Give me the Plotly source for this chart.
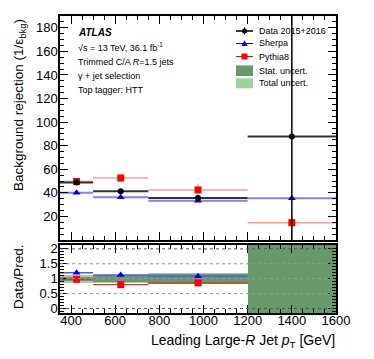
import plotly.graph_objects as go

# ---------------- data ----------------
bin_lo = [350, 500, 750, 1200]
bin_hi = [500, 750, 1200, 1600]
marker_x = [425, 625, 975, 1400]

data_val = [48.8, 41.4, 35.6, 87.7]
data_err_up = [1.5, 1.2, 2.5, 110.0]
data_err_dn = [1.5, 1.2, 2.5, 87.7]

sherpa_val = [40.0, 36.3, 33.2, 35.5]
sherpa_err = [0.8, 0.7, 0.8, 1.0]

pythia_val = [49.6, 52.6, 42.5, 14.7]
pythia_err = [2.5, 3.5, 5.5, 1.5]

ratio_x = [425, 625, 975]
sherpa_ratio = [1.20, 1.12, 1.08]
sherpa_ratio_err = [0.03, 0.03, 0.06]
pythia_ratio = [0.98, 0.80, 0.86]
pythia_ratio_err = [0.05, 0.03, 0.09]

stat_half = [0.07, 0.11, 0.17, 5.0]
total_half = [0.14, 0.13, 0.19, 5.0]

main_ticks = [20, 40, 60, 80, 100, 120, 140, 160, 180]
ratio_ticks = [0, 0.5, 1, 1.5, 2]
ratio_ticktext = ["0", "0.5", "1", "1.5", "2"]
x_ticks = [400, 600, 800, 1000, 1200, 1400, 1600]

legend_labels = ["Data 2015+2016", "Sherpa", "Pythia8", "Stat. uncert.", "Total uncert."]

# ---------------- layout geometry ----------------
# the page body has an 8 px margin, so the figure is drawn 8 px smaller and
# all target positions (page pixels) are shifted by that offset
OFF = 8
W, H = 374 - OFF, 359 - OFF
ML, MR, MT, MB = 60 - OFF, 38, 16 - OFF, 46
PW, PH = W - ML - MR, H - MT - MB


def X(px):
    return (px - OFF - ML) / PW


def Y(py):
    return (H - MB - (py - OFF)) / PH


# ---------------- derived ----------------
centers = [(a + b) / 2 for a, b in zip(bin_lo, bin_hi)]
widths = [b - a for a, b in zip(bin_lo, bin_hi)]
xerr_plus = [h - m for h, m in zip(bin_hi, marker_x)]
xerr_minus = [m - l for l, m in zip(bin_lo, marker_x)]

FONT = "Liberation Sans, Arial, Helvetica, sans-serif"
STAT_COL = "#67996a"
TOTAL_COL = "#9fd09f"
BLUE = "#0000ff"
RED = "#ff0000"

fig = go.Figure()

# ---- ratio bands ----
fig.add_trace(go.Bar(
    x=centers, y=[2 * h for h in total_half], base=[1 - h for h in total_half],
    width=widths, marker=dict(color=TOTAL_COL, line=dict(width=0)),
    xaxis="x2", yaxis="y2", name=legend_labels[4], showlegend=False))
fig.add_trace(go.Bar(
    x=centers, y=[2 * h for h in stat_half], base=[1 - h for h in stat_half],
    width=widths, marker=dict(color=STAT_COL, line=dict(width=0)),
    xaxis="x2", yaxis="y2", name=legend_labels[3], showlegend=False))

# ---- main panel ----
fig.add_trace(go.Scatter(
    x=marker_x, y=sherpa_val, mode="markers", name=legend_labels[1],
    marker=dict(symbol="triangle-up", size=7, color=BLUE),
    error_x=dict(type="data", symmetric=False, array=xerr_plus, arrayminus=xerr_minus,
                 color="#7f7fff", thickness=2, width=0),
    error_y=dict(type="data", array=sherpa_err, color=BLUE, thickness=1, width=0),
    showlegend=False))
fig.add_trace(go.Scatter(
    x=marker_x, y=pythia_val, mode="markers", name=legend_labels[2],
    marker=dict(symbol="square", size=7, color=RED),
    error_x=dict(type="data", symmetric=False, array=xerr_plus, arrayminus=xerr_minus,
                 color="#ff9898", thickness=1.5, width=0),
    error_y=dict(type="data", array=pythia_err, color="#ff8080", thickness=1, width=0),
    showlegend=False))
fig.add_trace(go.Scatter(
    x=marker_x, y=data_val, mode="markers", name=legend_labels[0],
    marker=dict(symbol="circle", size=6, color="black"),
    error_x=dict(type="data", symmetric=False, array=xerr_plus, arrayminus=xerr_minus,
                 color="#333333", thickness=2, width=0),
    error_y=dict(type="data", symmetric=False, array=data_err_up, arrayminus=data_err_dn,
                 color="black", thickness=1.5, width=0),
    showlegend=False))

# ---- ratio panel markers ----
fig.add_trace(go.Scatter(
    x=ratio_x, y=sherpa_ratio, mode="markers", xaxis="x2", yaxis="y2",
    marker=dict(symbol="triangle-up", size=7, color=BLUE),
    error_x=dict(type="data", symmetric=False, array=xerr_plus[:3], arrayminus=xerr_minus[:3],
                 color="#5555ff", thickness=1.5, width=0),
    error_y=dict(type="data", array=sherpa_ratio_err, color="#5555ff", thickness=1, width=0),
    showlegend=False))
fig.add_trace(go.Scatter(
    x=ratio_x, y=pythia_ratio, mode="markers", xaxis="x2", yaxis="y2",
    marker=dict(symbol="square", size=7, color=RED),
    error_x=dict(type="data", symmetric=False, array=xerr_plus[:3], arrayminus=xerr_minus[:3],
                 color="#e03030", thickness=1.2, width=0),
    error_y=dict(type="data", array=pythia_ratio_err, color="#ff6060", thickness=1, width=0),
    showlegend=False))

shapes = []
# ---- dotted reference lines in ratio panel (drawn on top) ----
for v in ratio_ticks:
    shapes.append(dict(type="line", xref="x2 domain", yref="y2", x0=0, x1=1, y0=v, y1=v,
                       line=dict(color="#555555" if v in (0, 2) else "#999999", width=1, dash="dot"),
                       layer="above"))

# ---- hand-built legend (ROOT style, compact rows) ----
lx0, lx1, lxm, ltext = 236, 253, 244.5, 257
rows = [31, 43.5, 56.5, 70.7, 83.3]
shapes.append(dict(type="line", xref="paper", yref="paper", x0=X(lx0), x1=X(lx1),
                   y0=Y(rows[0]), y1=Y(rows[0]), line=dict(color="black", width=1.5)))
shapes.append(dict(type="line", xref="paper", yref="paper", x0=X(lxm), x1=X(lxm),
                   y0=Y(rows[0] - 3.5), y1=Y(rows[0] + 3.5), line=dict(color="black", width=1.2)))
shapes.append(dict(type="circle", xref="paper", yref="paper", x0=X(lxm - 2.5), x1=X(lxm + 2.5),
                   y0=Y(rows[0] - 2.5), y1=Y(rows[0] + 2.5), fillcolor="black",
                   line=dict(color="black", width=0)))
shapes.append(dict(type="line", xref="paper", yref="paper", x0=X(lx0), x1=X(lx1),
                   y0=Y(rows[1]), y1=Y(rows[1]), line=dict(color=BLUE, width=1)))
tri = "M {} {} L {} {} L {} {} Z".format(X(lxm - 3.2), Y(rows[1] + 2.5), X(lxm + 3.2),
                                          Y(rows[1] + 2.5), X(lxm), Y(rows[1] - 3.2))
shapes.append(dict(type="path", xref="paper", yref="paper", path=tri, fillcolor=BLUE,
                   line=dict(color=BLUE, width=0)))
shapes.append(dict(type="line", xref="paper", yref="paper", x0=X(lx0), x1=X(lx1),
                   y0=Y(rows[2]), y1=Y(rows[2]), line=dict(color=RED, width=1)))
shapes.append(dict(type="rect", xref="paper", yref="paper", x0=X(lxm - 3), x1=X(lxm + 3),
                   y0=Y(rows[2] - 3), y1=Y(rows[2] + 3), fillcolor=RED,
                   line=dict(color=RED, width=0)))
shapes.append(dict(type="rect", xref="paper", yref="paper", x0=X(lx0), x1=X(lx1),
                   y0=Y(rows[3] - 5.3), y1=Y(rows[3] + 5.3), fillcolor=STAT_COL,
                   line=dict(width=0)))
shapes.append(dict(type="rect", xref="paper", yref="paper", x0=X(lx0), x1=X(lx1),
                   y0=Y(rows[4] - 5), y1=Y(rows[4] + 5), fillcolor=TOTAL_COL,
                   line=dict(width=0)))

annotations = []
for lab, ry in zip(legend_labels, rows):
    annotations.append(dict(text=lab, x=X(ltext), y=Y(ry), xref="paper", yref="paper",
                            xanchor="left", yanchor="middle", showarrow=False,
                            font=dict(size=9)))

info_lines = ["<b><i>ATLAS</i></b>", "√s = 13 TeV, 36.1 fb<sup>-1</sup>",
              "Trimmed C/A <i>R</i>=1.5 jets", "γ + jet selection", "Top tagger: HTT"]
info_rows = [32.5, 46.5, 61.5, 75.5, 89.5]
for i, (t, ry) in enumerate(zip(info_lines, info_rows)):
    annotations.append(dict(text=t, x=X(76), y=Y(ry), xref="paper", yref="paper",
                            xanchor="left", yanchor="middle", showarrow=False,
                            font=dict(size=10 if i == 0 else 9)))

annotations += [
    dict(text="Background rejection (1/ε<sub>bkg</sub>)", x=X(8.5), y=Y(17),
         xref="paper", yref="paper", xanchor="left", yanchor="top", textangle=-90,
         showarrow=False, font=dict(size=13.5)),
    dict(text="Data/Pred.", x=X(8.5), y=Y(277), xref="paper", yref="paper",
         xanchor="left", yanchor="middle", textangle=-90, showarrow=False,
         font=dict(size=13.5)),
    dict(text="Leading Large-<i>R</i> Jet <i>p</i><sub>T</sub> [GeV]", x=X(337), y=Y(341),
         xref="paper", yref="paper", xanchor="right", yanchor="middle", showarrow=False,
         font=dict(size=14)),
]

axis_common = dict(showline=True, linecolor="black", linewidth=1.5, mirror="allticks",
                   ticks="inside", tickcolor="black", showgrid=False, zeroline=False,
                   tickfont=dict(size=13, color="black", family=FONT))

fig.update_layout(
    width=W, height=H,
    margin=dict(l=ML, r=MR, t=MT, b=MB, autoexpand=False),
    paper_bgcolor="white", plot_bgcolor="white",
    font=dict(family=FONT, color="black"),
    barmode="overlay", bargap=0,
    showlegend=False,
    shapes=shapes,
    annotations=annotations,
    xaxis=dict(domain=[0, 1], range=[350, 1600], anchor="y", showticklabels=False,
               tickvals=x_ticks, ticklen=8,
               minor=dict(tickmode="linear", tick0=0, dtick=50, ticklen=4, ticks="inside",
                          tickcolor="black"),
               **axis_common),
    yaxis=dict(domain=[Y(240), 1], range=[0, 190], anchor="x",
               tickmode="array", tickvals=main_ticks, ticklen=8, ticklabelstandoff=-2,
               minor=dict(tickmode="linear", tick0=0, dtick=5, ticklen=4, ticks="inside",
                          tickcolor="black"),
               **axis_common),
    xaxis2=dict(domain=[0, 1], range=[350, 1600], anchor="y2", tickvals=x_ticks, ticklen=8,
                ticklabelstandoff=-5,
                minor=dict(tickmode="linear", tick0=0, dtick=50, ticklen=4, ticks="inside",
                           tickcolor="black"),
                **axis_common),
    yaxis2=dict(domain=[0, Y(245)], range=[-0.15, 2.13], anchor="x2",
                tickmode="array", tickvals=ratio_ticks, ticktext=ratio_ticktext, ticklen=8,
                ticklabelstandoff=-2,
                minor=dict(tickmode="linear", tick0=0, dtick=0.1, ticklen=4, ticks="inside",
                           tickcolor="black"),
                **axis_common),
)

fig.write_html("out.html")
